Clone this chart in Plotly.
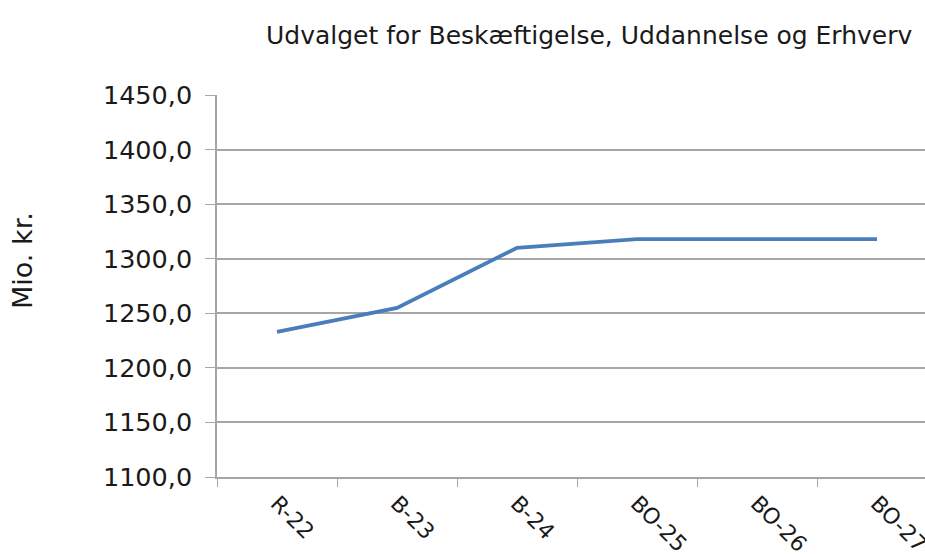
import plotly.graph_objects as go

categories = ["R-22", "B-23", "B-24", "BO-25", "BO-26", "BO-27"]
values = [1233.0, 1255.0, 1310.0, 1318.0, 1318.0, 1318.0]
title_text = "Udvalget for Beskæftigelse, Uddannelse og Erhverv"
y_title = "Mio. kr."

FONT = "DejaVu Sans"
GRID = "#a6a6a6"
TXT = "#1a1a1a"

fig = go.Figure()
fig.add_trace(go.Scatter(
    x=categories, y=values, mode="lines",
    line=dict(color="#4a7ebb", width=3.8),
    hoverinfo="skip", showlegend=False,
))

T, B = 95, 79
plot_h = 556 - T - B

fig.update_layout(
    width=925, height=556,
    margin=dict(l=217, r=0, t=T, b=B, autoexpand=False),
    paper_bgcolor="white", plot_bgcolor="white",
    separators=",.",
    font=dict(family=FONT, color=TXT),
    annotations=[
        dict(
            text=title_text, xref="paper", yref="paper",
            x=1.0, xanchor="right", xshift=-10,
            y=1, yanchor="middle", yshift=60,
            showarrow=False, font=dict(family=FONT, size=25, color=TXT),
        ),
        dict(
            text=y_title, xref="paper", yref="paper",
            x=0, xanchor="center", xshift=-195,
            y=(556 - B - 261) / plot_h, yanchor="middle",
            textangle=-90,
            showarrow=False, font=dict(family=FONT, size=27, color=TXT),
        ),
    ],
)

fig.update_xaxes(
    type="category", range=[-0.5, 5.4], automargin=False,
    showgrid=False, showline=True, linecolor=GRID, linewidth=1.5,
    ticks="outside", tickson="boundaries", ticklen=8, tickcolor=GRID,
    tickangle=45, tickfont=dict(family=FONT, size=22, color=TXT),
    ticklabelstandoff=3,
)
fig.update_yaxes(
    range=[1100, 1450], dtick=50, tick0=1100, tickformat=".1f", automargin=False,
    showgrid=True, gridcolor=GRID, gridwidth=1.5,
    showline=True, linecolor=GRID, linewidth=1.5,
    ticks="outside", ticklen=10, tickcolor=GRID,
    tickfont=dict(family=FONT, size=25.5, color=TXT),
    ticklabelstandoff=8,
    zeroline=False,
)

fig.write_html(
    "out.html",
    config={"displayModeBar": False},
    post_script="document.body.style.margin='0';document.body.style.overflow='hidden';",
)
